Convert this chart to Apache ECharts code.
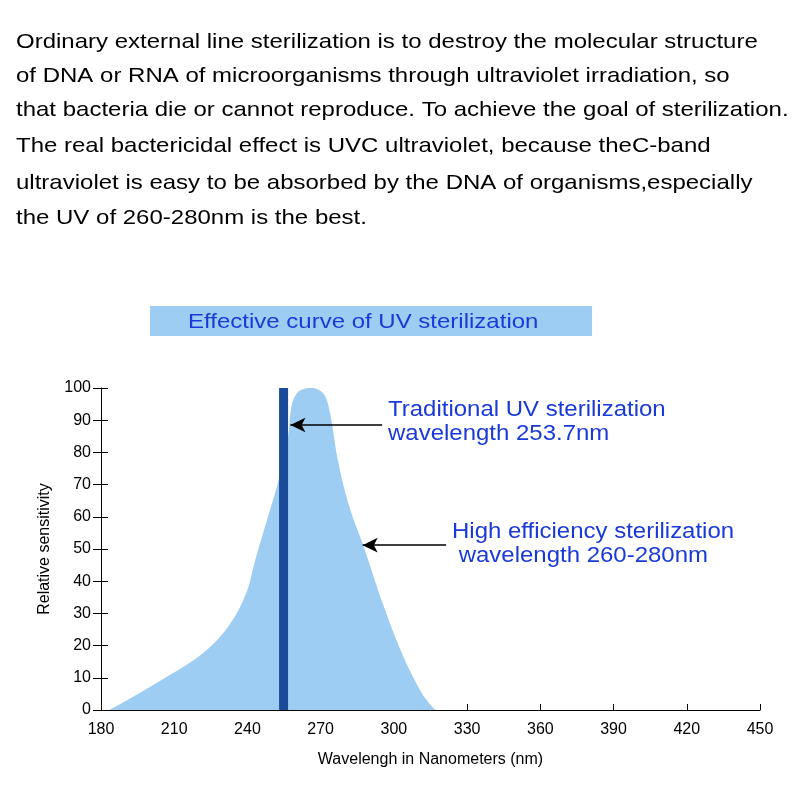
<!DOCTYPE html>
<html><head><meta charset="utf-8">
<script src="https://cdn.jsdelivr.net/npm/echarts@6/dist/echarts.min.js"></script>
<style>html,body{margin:0;padding:0;background:#fff}#c{width:800px;height:800px}</style>
</head><body><div id="c"></div>
<script>
const paragraphLines = [
  "Ordinary external line sterilization is to destroy the molecular structure",
  "of DNA or RNA of microorganisms through ultraviolet irradiation, so",
  "that bacteria die or cannot reproduce. To achieve the goal of sterilization.",
  "The real bactericidal effect is UVC ultraviolet, because theC-band",
  "ultraviolet is easy to be absorbed by the DNA of organisms,especially",
  "the UV of 260-280nm is the best."
];
const chartTitle = "Effective curve of UV sterilization";
const xAxisName = "Wavelengh in Nanometers (nm)";
const yAxisName = "Relative sensitivity";
const xTicks = [180, 210, 240, 270, 300, 330, 360, 390, 420, 450];
const yTicks = [0, 10, 20, 30, 40, 50, 60, 70, 80, 90, 100];
// effectiveness curve [wavelength, relative sensitivity]
const curveX = [183.5, 193, 207, 218, 227.5, 234, 238.3, 240.5, 243, 248, 253, 256.5, 258.1, 260.2, 263, 266.3, 269.5, 271.8, 273.9, 277.3, 282, 287.5, 295.7, 303.9, 310.7, 314, 317];
const curveY = [0, 4, 10.3, 15.5, 21.7, 28, 34.2, 38.5, 46, 59, 72, 84, 94.5, 98.3, 99.7, 100, 99.3, 97.5, 92, 76.6, 62.5, 51, 32.5, 16.5, 6.2, 2.5, 0];
// traditional UV line (as drawn)
const traditionalWavelength = 254.8;
const traditionalRange = [0, 100];
const annotation1 = ["Traditional UV sterilization", "wavelength 253.7nm"];
const annotation2 = ["High efficiency sterilization", " wavelength 260-280nm"];
const arrow1 = [[295.2, 88.5], [257.6, 88.5]];
const arrow2 = [[321.4, 51.2], [287.2, 51.2]];

const chart = echarts.init(document.getElementById('c'));
const FONT = "'Liberation Sans', Arial, sans-serif";
const BLUE = '#1a3ad8';

const paraY = [42, 76, 110, 146, 183, 218];
const graphics = [];
function txt(t, x, y, size, sx, color) {
  graphics.push({type:'text', x:x, y:y, scaleX:sx, z:10,
    style:{text:t, x:0, y:0, fill:color, font:size + 'px ' + FONT, verticalAlign:'middle', align:'left'}});
}
paragraphLines.forEach((t, i) => txt(t, 16, paraY[i], 21, 1.143, '#000'));
graphics.push({type:'rect', shape:{x:150, y:306, width:442, height:30}, style:{fill:'#9dcdf2'}, z:9});
txt(chartTitle, 188, 322, 21, 1.143, BLUE);
txt(annotation1[0], 388, 410, 22, 1.09, BLUE);
txt(annotation1[1], 388, 434, 22, 1.09, BLUE);
txt(annotation2[0], 452, 532, 22, 1.09, BLUE);
txt(annotation2[1], 452, 556, 22, 1.09, BLUE);

const yBase = {type:'value', min:0, max:100, interval:10, splitLine:{show:false}};
chart.setOption({
  animation:false,
  grid:{left:101, right:40, top:388, bottom:90, containLabel:false},
  graphic: graphics,
  xAxis:{type:'value', min:180, max:450, interval:30,
    name:xAxisName, nameLocation:'middle', nameGap:42,
    nameTextStyle:{color:'#000', fontSize:16, fontFamily:FONT},
    axisLine:{lineStyle:{color:'#000', width:1}},
    axisTick:{inside:true, length:6, lineStyle:{color:'#000'}},
    axisLabel:{color:'#000', fontSize:16, fontFamily:FONT, margin:12},
    splitLine:{show:false}},
  yAxis:[
    Object.assign({}, yBase, {
      name:yAxisName, nameLocation:'middle', nameGap:48, nameRotate:90,
      nameTextStyle:{color:'#000', fontSize:16, fontFamily:FONT},
      axisLine:{show:true, lineStyle:{color:'#000', width:1}},
      axisTick:{show:true, inside:false, length:8, lineStyle:{color:'#000'}},
      axisLabel:{color:'#000', fontSize:16, fontFamily:FONT, margin:10}}),
    Object.assign({}, yBase, {position:'left', offset:0,
      axisLine:{show:false},
      axisTick:{show:true, inside:true, length:7, lineStyle:{color:'#000'}},
      axisLabel:{show:false}})
  ],
  series:[
    {type:'line', data: curveX.map((x,i)=>[x, curveY[i]]), smooth:0.4,
     showSymbol:false, lineStyle:{width:0}, areaStyle:{color:'#9dcdf2', opacity:1}, z:2,
     markLine:{silent:true, symbol:['none','arrow'], symbolSize:[11,15],
       lineStyle:{color:'#000', width:1.5, type:'solid'}, label:{show:false},
       data:[
         [{coord:arrow1[0]}, {coord:arrow1[1]}],
         [{coord:arrow2[0]}, {coord:arrow2[1]}]
       ]}},
    {type:'line', data: traditionalRange.map(v=>[traditionalWavelength, v]), showSymbol:false,
     lineStyle:{width:9, color:'#1b4a98', cap:'butt'}, z:3}
  ]
});
</script></body></html>
